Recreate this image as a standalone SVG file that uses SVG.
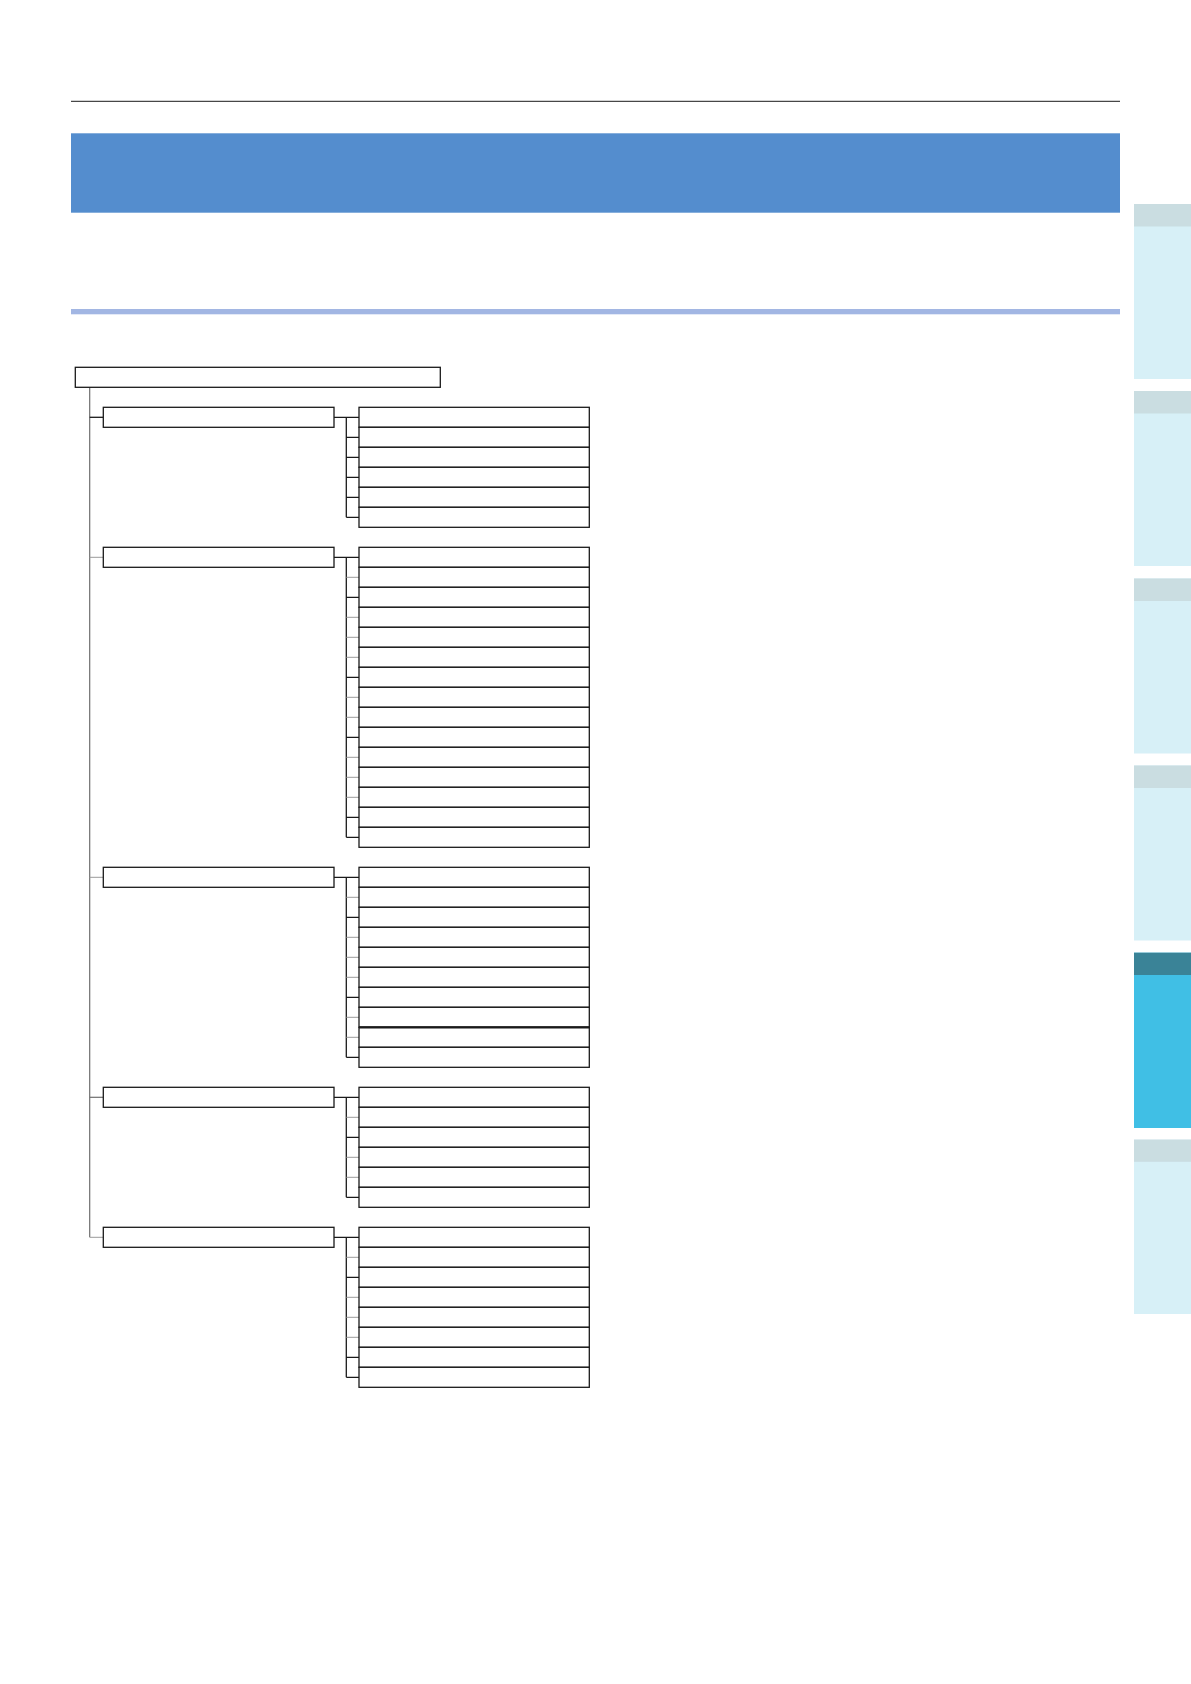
<svg xmlns="http://www.w3.org/2000/svg" width="1191" height="1684" viewBox="0 0 1191 1684">
<style>
.bx{fill:#fff;stroke:#1a1a1a;stroke-width:1.3}
.lk{stroke:#1a1a1a;stroke-width:1.3;fill:none}
.lg{stroke:#9a9a9a;stroke-width:1;fill:none}
.lm{stroke:#6e6e6e;stroke-width:1.2;fill:none}
.th{fill:#d7f0f7}
.tg{fill:#cadde1}
</style>
<rect width="1191" height="1684" fill="#fff"/>
<g id="page">
<line x1="71" y1="101.3" x2="1120" y2="101.3" stroke="#1a1a1a" stroke-width="1"/>
<rect x="71" y="133.3" width="1049" height="79.4" fill="#548dce"/>
<rect x="71" y="309" width="1049" height="5.3" fill="#a2b6e3"/>
</g>
<g id="tabs">
<rect class="th" x="1134" y="204" width="57" height="175"/><rect class="tg" x="1134" y="204" width="57" height="22.5"/>
<rect class="th" x="1134" y="391" width="57" height="175"/><rect class="tg" x="1134" y="391" width="57" height="22.5"/>
<rect class="th" x="1134" y="578.5" width="57" height="175"/><rect class="tg" x="1134" y="578.5" width="57" height="22.5"/>
<rect class="th" x="1134" y="765.5" width="57" height="175"/><rect class="tg" x="1134" y="765.5" width="57" height="22.5"/>
<rect x="1134" y="952.7" width="57" height="175.3" fill="#40bfe5"/><rect x="1134" y="952.7" width="57" height="22.3" fill="#3a8397"/>
<rect class="th" x="1134" y="1139.6" width="57" height="174.4"/><rect class="tg" x="1134" y="1139.6" width="57" height="22.2"/>
</g>
<g id="connectors">
<line class="lm" x1="89.7" y1="387.3" x2="89.7" y2="1237.3"/>
<line class="lk" x1="89.7" y1="417.3" x2="103.3" y2="417.3"/>
<line class="lg" x1="89.7" y1="557.3" x2="103.3" y2="557.3"/>
<line class="lg" x1="89.7" y1="877.3" x2="103.3" y2="877.3"/>
<line class="lm" x1="89.7" y1="1097.3" x2="103.3" y2="1097.3"/>
<line class="lg" x1="89.7" y1="1237.3" x2="103.3" y2="1237.3"/>
<!-- group 1 -->
<path class="lk" d="M334 417.3H359M346.3 417.3V517.3M346.3 437.3H359M346.3 457.3H359M346.3 477.3H359M346.3 497.3H359M346.3 517.3H359"/>
<!-- group 2 -->
<path class="lk" d="M334 557.3H359M346.3 557.3V837.3M346.3 597.3H359M346.3 677.3H359M346.3 737.3H359M346.3 817.3H359M346.3 837.3H359"/>
<path class="lg" d="M346.3 577.3H359M346.3 617.3H359M346.3 637.3H359M346.3 657.3H359M346.3 697.3H359M346.3 717.3H359M346.3 757.3H359M346.3 777.3H359M346.3 797.3H359"/>
<!-- group 3 -->
<path class="lk" d="M334 877.3H359M346.3 877.3V1057.3M346.3 917.3H359M346.3 997.3H359M346.3 1057.3H359"/>
<path class="lg" d="M346.3 897.3H359M346.3 937.3H359M346.3 957.3H359M346.3 977.3H359M346.3 1017.3H359M346.3 1037.3H359"/>
<!-- group 4 -->
<path class="lk" d="M334 1097.3H359M346.3 1097.3V1197.3M346.3 1137.3H359M346.3 1197.3H359"/>
<path class="lg" d="M346.3 1117.3H359M346.3 1157.3H359M346.3 1177.3H359"/>
<!-- group 5 -->
<path class="lk" d="M334 1237.3H359M346.3 1237.3V1377.3M346.3 1277.3H359M346.3 1357.3H359M346.3 1377.3H359"/>
<path class="lg" d="M346.3 1257.3H359M346.3 1297.3H359M346.3 1317.3H359M346.3 1337.3H359"/>
</g>
<g id="root"><rect class="bx" x="75.3" y="367.3" width="365" height="20"/></g>
<g id="n1"><rect class="bx" x="103.3" y="407.3" width="230.7" height="20"/></g>
<g id="n2"><rect class="bx" x="103.3" y="547.3" width="230.7" height="20"/></g>
<g id="n3"><rect class="bx" x="103.3" y="867.3" width="230.7" height="20"/></g>
<g id="n4"><rect class="bx" x="103.3" y="1087.3" width="230.7" height="20"/></g>
<g id="n5"><rect class="bx" x="103.3" y="1227.3" width="230.7" height="20"/></g>
<g id="n1-items">
<rect class="bx" x="359" y="407.3" width="230.3" height="20"/><rect class="bx" x="359" y="427.3" width="230.3" height="20"/><rect class="bx" x="359" y="447.3" width="230.3" height="20"/><rect class="bx" x="359" y="467.3" width="230.3" height="20"/><rect class="bx" x="359" y="487.3" width="230.3" height="20"/><rect class="bx" x="359" y="507.3" width="230.3" height="20"/>
</g>
<g id="n2-items">
<rect class="bx" x="359" y="547.3" width="230.3" height="20"/><rect class="bx" x="359" y="567.3" width="230.3" height="20"/><rect class="bx" x="359" y="587.3" width="230.3" height="20"/><rect class="bx" x="359" y="607.3" width="230.3" height="20"/><rect class="bx" x="359" y="627.3" width="230.3" height="20"/><rect class="bx" x="359" y="647.3" width="230.3" height="20"/><rect class="bx" x="359" y="667.3" width="230.3" height="20"/><rect class="bx" x="359" y="687.3" width="230.3" height="20"/><rect class="bx" x="359" y="707.3" width="230.3" height="20"/><rect class="bx" x="359" y="727.3" width="230.3" height="20"/><rect class="bx" x="359" y="747.3" width="230.3" height="20"/><rect class="bx" x="359" y="767.3" width="230.3" height="20"/><rect class="bx" x="359" y="787.3" width="230.3" height="20"/><rect class="bx" x="359" y="807.3" width="230.3" height="20"/><rect class="bx" x="359" y="827.3" width="230.3" height="20"/>
</g>
<g id="n3-items">
<rect class="bx" x="359" y="867.3" width="230.3" height="20"/><rect class="bx" x="359" y="887.3" width="230.3" height="20"/><rect class="bx" x="359" y="907.3" width="230.3" height="20"/><rect class="bx" x="359" y="927.3" width="230.3" height="20"/><rect class="bx" x="359" y="947.3" width="230.3" height="20"/><rect class="bx" x="359" y="967.3" width="230.3" height="20"/><rect class="bx" x="359" y="987.3" width="230.3" height="20"/><rect class="bx" x="359" y="1007.3" width="230.3" height="20"/><rect class="bx" x="359" y="1027.3" width="230.3" height="20"/><rect class="bx" x="359" y="1047.3" width="230.3" height="20"/>
<line x1="359" y1="1027.3" x2="589.3" y2="1027.3" stroke="#1a1a1a" stroke-width="2.2"/>
</g>
<g id="n4-items">
<rect class="bx" x="359" y="1087.3" width="230.3" height="20"/><rect class="bx" x="359" y="1107.3" width="230.3" height="20"/><rect class="bx" x="359" y="1127.3" width="230.3" height="20"/><rect class="bx" x="359" y="1147.3" width="230.3" height="20"/><rect class="bx" x="359" y="1167.3" width="230.3" height="20"/><rect class="bx" x="359" y="1187.3" width="230.3" height="20"/>
</g>
<g id="n5-items">
<rect class="bx" x="359" y="1227.3" width="230.3" height="20"/><rect class="bx" x="359" y="1247.3" width="230.3" height="20"/><rect class="bx" x="359" y="1267.3" width="230.3" height="20"/><rect class="bx" x="359" y="1287.3" width="230.3" height="20"/><rect class="bx" x="359" y="1307.3" width="230.3" height="20"/><rect class="bx" x="359" y="1327.3" width="230.3" height="20"/><rect class="bx" x="359" y="1347.3" width="230.3" height="20"/><rect class="bx" x="359" y="1367.3" width="230.3" height="20"/>
</g>
</svg>
